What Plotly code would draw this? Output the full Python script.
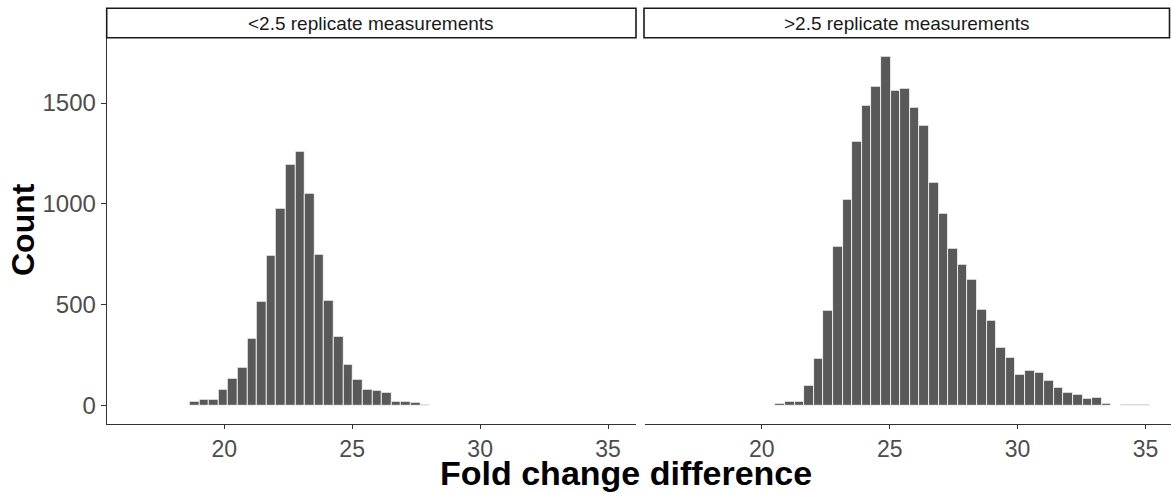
import plotly.graph_objects as go

# ---- data ----
bin_width = 0.3755
left_first_edge = 18.65
right_first_edge = 20.53
left_counts = [18, 30, 30, 79, 134, 188, 333, 513, 743, 977, 1196, 1261, 1051,
               748, 518, 343, 203, 130, 79, 74, 63, 18, 18, 13, 5]
right_counts = [8, 18, 20, 97, 231, 472, 789, 1023, 1310, 1488, 1582, 1729, 1563,
                1573, 1479, 1388, 1107, 949, 780, 700, 622, 477, 421, 287, 239,
                152, 173, 162, 122, 89, 63, 53, 33, 38, 8, 0, 3, 3, 3]
panel_labels = ["<2.5 replicate measurements", ">2.5 replicate measurements"]
x_ticks = [20, 25, 30, 35]
y_ticks = [0, 500, 1000, 1500]

left_x = [left_first_edge + (i + 0.5) * bin_width for i in range(len(left_counts))]
right_x = [right_first_edge + (i + 0.5) * bin_width for i in range(len(right_counts))]

W, H = 1171, 493
BAR = "#595959"
AX = "#333333"
TICKFONT = dict(family="Liberation Sans, Arial, sans-serif", size=23, color="#4d4d4d")

fig = go.Figure()
fig.add_trace(go.Bar(x=left_x, y=left_counts, width=bin_width, xaxis="x", yaxis="y",
                     marker=dict(color=BAR, line=dict(color="white", width=0.8)),
                     showlegend=False))
fig.add_trace(go.Bar(x=right_x, y=right_counts, width=bin_width, xaxis="x2", yaxis="y2",
                     marker=dict(color=BAR, line=dict(color="white", width=0.8)),
                     showlegend=False))

px_x = lambda p: p / W
px_y = lambda p: (H - p) / H

plot_top, plot_bot = 37.7, 424.0
yr = [-90.7, 1823.6]

common_x = dict(tickvals=x_ticks, ticks="outside", ticklen=4, tickcolor=AX,
                showline=True, linecolor=AX, linewidth=1.1, showgrid=False, zeroline=False,
                tickfont=TICKFONT, fixedrange=True)

fig.update_layout(
    width=W, height=H, margin=dict(l=0, r=0, t=0, b=0),
    paper_bgcolor="white", plot_bgcolor="white", bargap=0,
    xaxis=dict(domain=[px_x(106.7), px_x(635.5)], anchor="y", range=[15.41, 36.07], **common_x),
    xaxis2=dict(domain=[px_x(645), 1.0], anchor="y2", range=[15.43, 36.0], **common_x),
    yaxis=dict(domain=[px_y(plot_bot), px_y(plot_top)], range=yr, tickvals=y_ticks,
               ticks="outside", ticklen=5, tickcolor=AX, showline=True, linecolor=AX,
               linewidth=1.1, showgrid=False, zeroline=False, tickfont=dict(TICKFONT, size=24),
               anchor="x"),
    yaxis2=dict(domain=[px_y(plot_bot), px_y(plot_top)], range=yr, showticklabels=False,
                ticks="", showline=False, showgrid=False, zeroline=False, anchor="x2"),
)

# strips
strips = [(106.7, 636), (644, 1169.5)]
for (x0, x1), lab in zip(strips, panel_labels):
    fig.add_shape(type="rect", xref="paper", yref="paper",
                  x0=px_x(x0), x1=px_x(x1), y0=px_y(37.7), y1=px_y(8.3),
                  line=dict(color="#1a1a1a", width=1.6), fillcolor="white")
    fig.add_annotation(text=lab, xref="paper", yref="paper",
                       x=px_x((x0 + x1) / 2), y=px_y(23.5), showarrow=False,
                       xanchor="center", yanchor="middle",
                       font=dict(family="Liberation Sans, Arial, sans-serif", size=19, color="#1a1a1a"))

# axis titles
fig.add_annotation(text="<b>Fold change difference</b>", xref="paper", yref="paper",
                   x=px_x(625.5), y=px_y(473), showarrow=False, xanchor="center", yanchor="middle",
                   font=dict(family="Liberation Sans, Arial, sans-serif", size=34, color="black"))
fig.add_annotation(text="<b>Count</b>", xref="paper", yref="paper", textangle=-90,
                   x=px_x(23), y=px_y(230), showarrow=False, xanchor="center", yanchor="middle",
                   font=dict(family="Liberation Sans, Arial, sans-serif", size=32, color="black"))

fig.write_html("out.html")
